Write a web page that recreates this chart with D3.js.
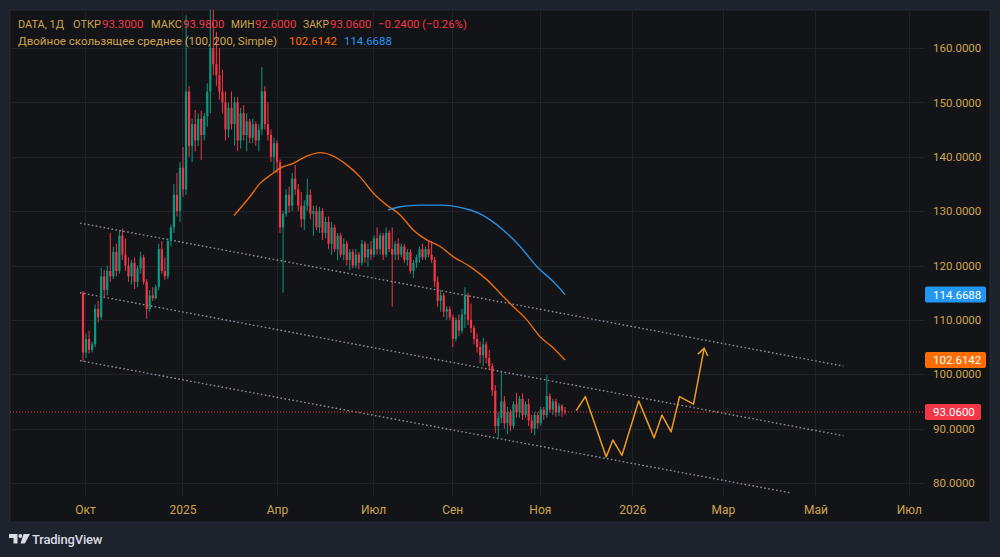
<!DOCTYPE html>
<html lang="ru">
<head>
<meta charset="UTF-8">
<title>DATA, 1Д</title>
<script src="https://cdn.jsdelivr.net/npm/d3@7"></script>
<style>
  html, body { margin: 0; padding: 0; background: #1e222d; }
  svg { display: block; font-family: Roboto, "Noto Sans", sans-serif; }
</style>
</head>
<body>
<script>
    // дневные свечи [open, high, low, close], индекс = номер бара
    var candles = [
        [115,115.3,102.3,104],[104,107.5,103,106.5],[106.5,108,103.8,104.5],[104.5,106,104,105.5],
        [105.5,112.8,105,112],[112,113.5,109.5,110.5],[110.5,119.6,110,118],[118,119.2,114,115.5],
        [115.5,120,114.5,119],[119,126,117,118],[118,123.5,117.5,122.5],[122.5,124,118,119],
        [119,126.5,118.5,125.5],[125.5,126.8,121,122],[122,125,119,120],[120,121.5,117,118],
        [118,121,116.5,120.5],[120.5,121.5,115.7,117],[117,120,116,119.5],[119.5,122.5,118.5,121.5],
        [121.5,122,116.5,117],[117,117.5,110.2,112],[112,115.5,111.5,114.5],[114.5,116,113.5,114],
        [114,116.5,113.8,116],[116,124,115.5,123],[123,124.5,118.5,119],[119,121.5,117.3,118],
        [118,125,117.5,124.5],[124.5,127.5,123.5,127],[127,135,126,133],[133,137,129,130],
        [130,139,128,138],[138,141.8,132.6,134],[134,166,133,152],[152,153,140,142],
        [142,147,139,146],[146,148.6,141,143],[143,148,142,147],[147,148.5,139.4,144],
        [144,148,143,147.5],[147.5,153.5,145.5,152],[152,167,148,160],[160,167.5,155,157],
        [157,163,153,155],[155,160,150.5,152],[152,156,148,150],[150,152,143,145],
        [145,150,143.5,149],[149,152,145,146],[146,151,142,150],[150,151,141,143],
        [143,149,141.5,148],[148,149.5,143,144],[144,148,141,146.5],[146.5,147,142.5,143.5],
        [143.5,147,142.5,146],[146,146.5,142,143],[143,146,141,145],[145,156.5,144,152],
        [152,153,145,146],[146,150,143,144],[144,145,139,140],[140,143.5,137,142.5],
        [142.5,143,137,139],[139,139.5,126,127],[127,130,115,129.5],[129.5,134,129,133],
        [133,134.5,129.7,131],[131,137,130,136],[136,138.5,133,134],[134,135,130,131],
        [131,133.5,127,128.5],[128.5,132,126.5,131],[131,136,130,133],[133,134,128.5,129.5],
        [129.5,131,125.5,130],[130,131,126.5,127],[127,130.8,126,130],[130,130.5,124.7,126],
        [126,129,125,128],[128,129,123,124],[124,128,122,127],[127,127.5,122.5,123],
        [123,126,121,125.5],[125.5,126,121.5,122],[122,125,121,124],[124,124.5,120,121],
        [121,123,119.2,122.5],[122.5,123,119.5,120],[120,123,119.5,122],[122,122.5,119.3,120.5],
        [120.5,124.7,120,124],[124,124.5,120.5,121.5],[121.5,124,119.8,123],[123,124.5,121,122],
        [122,125.5,121.5,125],[125,127,122,123],[123,126,122,125.5],[125.5,126,121,122],
        [122,127,121.5,126],[126,126.5,122.5,123],[123,127,112.4,122],[122,124.5,121,124],
        [124,125,121,122],[122,124,121.5,123.5],[123.5,124,120.5,121],[121,123,120,122.5],
        [122.5,123,118.5,119],[119,121,117.7,120.5],[120.5,122,119.5,121.5],[121.5,123.5,120.5,123],
        [123,124,121,121.5],[121.5,123.5,121,123],[123,124.7,121.5,122],[122,124.5,120.5,121],
        [121,121.6,116,117],[117,118,112.4,113.5],[113.5,115.5,111.5,114.5],[114.5,115,110.5,111.5],
        [111.5,112.5,110,112],[112,112.5,110,110.5],[110.5,111,105,106.5],[106.5,110.5,106,110],
        [110,111,107,108],[108,112,107.5,111],[111,116,108.5,114.5],[114.5,115,109,110],
        [110,113,107.6,108.5],[108.5,109,105.5,106.5],[106.5,107.5,104,105],[105,106,102,103.5],
        [103.5,106.7,101.5,105.5],[105.5,106,102,103],[103,104.5,100.8,101.5],[101.5,102,96,97],
        [97,98,89.2,90.5],[90.5,93,88.3,92],[92,100.4,91,95],[95,96,90,91],
        [91,94,89,93],[93,93.5,89.5,90.5],[90.5,95,90,94.5],[94.5,96.6,92,93],
        [93,96,92,95.5],[95.5,96.5,91.6,92.5],[92.5,95,92,94.5],[94.5,95.5,90.5,91.5],
        [91.5,92.5,89.2,90],[90,93,88.8,92.5],[92.5,93,90,91],[91,94,90.5,93.5],
        [93.5,94,91.6,92.5],[92.5,99.9,92,96],[96,96.5,93,93.5],[93.5,95.5,92.5,95],
        [95,95.5,92.2,93],[93,94.7,92.3,94.2],[94.2,94.5,92.2,93.3],[93.3,93.98,92.6,93.06]
    ];

    // скользящие средние: [бар, значение]
    var maFast = [
        [49.8,129.2],[55.1,132.7],[58.4,135.1],[62.8,137.0],[65.0,137.9],[69.4,138.8],[73.8,140.1],
        [78.2,140.75],[82.6,140.1],[87.0,138.5],[91.4,136.3],[95.8,133.3],[100.2,131.1],[104.6,129.3],
        [109.0,126.5],[113.4,124.7],[117.8,123.5],[122.2,121.6],[127.7,119.8],[133.2,117.4],
        [137.6,114.9],[142.0,112.4],[146.4,110.0],[150.8,106.9],[155.2,104.8],[159,102.6142]
    ];
    var maSlow = [
        [100.6,130.2],[104.6,130.8],[111.2,131.1],[117.8,131.1],[124.4,130.7],[127.7,130.2],
        [131.0,129.5],[134.3,128.4],[138.7,126.5],[144.2,123.5],[149.7,119.8],[155.2,117.0],[159,114.6688]
    ];

    // наклонный канал: [[бар, цена], [бар, цена]]
    var channel = [
        [[-1, 127.8], [250.8, 101.5]],
        [[-1, 115.0], [250.8, 88.7]],
        [[-1, 102.5], [233.3, 78.2]]
    ];

    // прогноз (ломаная со стрелкой)
    var forecast = [
        [162.7,93.3],[165.7,95.9],[172.6,84.8],[174.8,87.9],[177.8,85.1],[183.3,95.1],
        [188.4,88.3],[191,92.5],[194,89.4],[196.8,95.9],[201.4,94.5],[204.9,104.8]
    ];

    var priceTicks = [80, 90, 100, 110, 120, 130, 140, 150, 160];
    var timeTicks = [0.66, 32.8, 64, 95.7, 121.8, 150.7, 181.2, 211.1, 241.6, 272.4];
    var timeLabels = ["Окт", "2025", "Апр", "Июл", "Сен", "Ноя", "2026", "Мар", "Май", "Июл"];

    var lastPrice = 93.06, change = -0.24, changePct = -0.26;

    // цвета
    var upColor = "#089981", downColor = "#f23645";
    var gold = "#cfa54e", fastColor = "#ff6d00", slowColor = "#2196f3";

    var width = 1000, height = 557;
    var panel = {x: 10, y: 10, w: 980, h: 512};
    var plotRight = 925, plotBottom = 497;

    var svg = d3.select("body").append("svg")
        .attr("width", width).attr("height", height);

    svg.append("rect").attr("width", width).attr("height", height).attr("fill", "#1e222d");
    svg.append("rect")
        .attr("x", panel.x).attr("y", panel.y).attr("width", panel.w).attr("height", panel.h)
        .attr("fill", "#121418").attr("stroke", "#262a34");

    svg.append("clipPath").attr("id", "plot")
        .append("rect").attr("x", panel.x).attr("y", panel.y)
        .attr("width", plotRight - panel.x).attr("height", plotBottom - panel.y);

    var x = d3.scaleLinear().domain([0, candles.length - 1]).range([83, 565]);
    var y = d3.scaleLinear().domain([80, 160]).range([483, 48]);

    // сетка
    var grid = svg.append("g").attr("stroke", "#1f222a").attr("stroke-width", 1);
    grid.selectAll(".hg").data(priceTicks).enter().append("line")
        .attr("x1", panel.x).attr("x2", plotRight)
        .attr("y1", function (d) { return Math.round(y(d)) + 0.5; })
        .attr("y2", function (d) { return Math.round(y(d)) + 0.5; });
    grid.selectAll(".vg").data(timeTicks).enter().append("line")
        .attr("x1", function (d) { return Math.round(x(d)) + 0.5; })
        .attr("x2", function (d) { return Math.round(x(d)) + 0.5; })
        .attr("y1", panel.y).attr("y2", plotBottom);

    var plot = svg.append("g").attr("clip-path", "url(#plot)");

    // канал
    plot.selectAll(".ch").data(channel).enter().append("line")
        .attr("x1", function (d) { return x(d[0][0]); })
        .attr("y1", function (d) { return y(d[0][1]); })
        .attr("x2", function (d) { return x(d[1][0]); })
        .attr("y2", function (d) { return y(d[1][1]); })
        .attr("stroke", "#8b8f98").attr("stroke-width", 1.4)
        .attr("stroke-dasharray", "1.6,2.4");

    // линия последней цены
    plot.append("line")
        .attr("x1", panel.x).attr("x2", plotRight)
        .attr("y1", y(lastPrice)).attr("y2", y(lastPrice))
        .attr("stroke", downColor).attr("stroke-width", 1)
        .attr("stroke-dasharray", "1,2");

    // свечи
    var bw = 2.2;
    var bar = plot.selectAll(".candle").data(candles).enter().append("g")
        .attr("fill", function (d) { return d[3] >= d[0] ? upColor : downColor; })
        .attr("stroke", function (d) { return d[3] >= d[0] ? upColor : downColor; });
    bar.append("line")
        .attr("x1", function (d, i) { return x(i); })
        .attr("x2", function (d, i) { return x(i); })
        .attr("y1", function (d) { return y(d[1]); })
        .attr("y2", function (d) { return y(d[2]); })
        .attr("stroke-width", 1);
    bar.append("rect")
        .attr("stroke", "none")
        .attr("x", function (d, i) { return x(i) - bw / 2; })
        .attr("y", function (d) { return y(Math.max(d[0], d[3])); })
        .attr("width", bw)
        .attr("height", function (d) { return Math.max(1, Math.abs(y(d[0]) - y(d[3]))); });

    // скользящие средние
    var line = d3.line()
        .x(function (d) { return x(d[0]); })
        .y(function (d) { return y(d[1]); })
        .curve(d3.curveMonotoneX);
    plot.append("path").datum(maFast).attr("d", line)
        .attr("fill", "none").attr("stroke", "#ec6a0c").attr("stroke-width", 1.4);
    plot.append("path").datum(maSlow).attr("d", line)
        .attr("fill", "none").attr("stroke", "#2a8fe0").attr("stroke-width", 1.4);

    // прогноз
    svg.append("defs").append("marker")
        .attr("id", "arrow").attr("viewBox", "-8 -6 10 12")
        .attr("markerWidth", 10).attr("markerHeight", 12)
        .attr("markerUnits", "userSpaceOnUse").attr("orient", "auto")
        .append("path").attr("d", "M-7,-5 L0,0 L-7,5")
        .attr("fill", "none").attr("stroke", "#ee9c1f").attr("stroke-width", 1.5);
    plot.append("path").datum(forecast)
        .attr("d", d3.line().x(function (d) { return x(d[0]); }).y(function (d) { return y(d[1]); }))
        .attr("fill", "none").attr("stroke", "#ee9c1f").attr("stroke-width", 1.5)
        .attr("stroke-linejoin", "round")
        .attr("marker-end", "url(#arrow)");

    // шкала цен
    var fmt = d3.format(".4f");
    var yAxis = svg.append("g")
        .attr("transform", "translate(" + plotRight + ",0)")
        .call(d3.axisRight(y).tickValues(priceTicks).tickFormat(fmt).tickSize(0).tickPadding(8));
    yAxis.select(".domain").remove();
    yAxis.selectAll("text").attr("fill", gold).style("font-size", "11.5px")
        .style("font-family", "Roboto, sans-serif");

    // шкала времени
    var xAxis = svg.append("g")
        .attr("transform", "translate(0," + plotBottom + ")")
        .call(d3.axisBottom(x).tickValues(timeTicks)
            .tickFormat(function (d, i) { return timeLabels[i]; })
            .tickSize(0).tickPadding(8));
    xAxis.select(".domain").remove();
    xAxis.selectAll("text").attr("fill", gold).style("font-size", "12px")
        .style("font-family", "Roboto, sans-serif");

    // метки значений на шкале
    var badges = [
        {v: maSlow[maSlow.length - 1][1], c: slowColor, w: 61},
        {v: maFast[maFast.length - 1][1], c: fastColor, w: 61},
        {v: lastPrice, c: downColor, w: 56}
    ];
    var badge = svg.selectAll(".badge").data(badges).enter().append("g");
    badge.append("rect")
        .attr("x", plotRight).attr("y", function (d) { return y(d.v) - 8; })
        .attr("width", function (d) { return d.w; }).attr("height", 16).attr("rx", 2)
        .attr("fill", function (d) { return d.c; });
    badge.append("text")
        .attr("x", plotRight + 8).attr("y", function (d) { return y(d.v) + 4.2; })
        .attr("fill", "#ffffff").style("font-size", "11.5px")
        .text(function (d) { return fmt(d.v); });

    // легенда: каждый кусок на своём месте
    var last = candles[candles.length - 1];
    var leg1 = [
        {t: "DATA, 1Д", x: 18, w: 46, c: gold},
        {t: "ОТКР", x: 73, w: 28, c: gold}, {t: fmt(last[0]), x: 102, c: downColor},
        {t: "МАКС", x: 151, w: 31, c: gold}, {t: fmt(last[1]), x: 183, c: downColor},
        {t: "МИН", x: 231, fs: 10.2, c: gold}, {t: fmt(last[2]), x: 255, c: downColor},
        {t: "ЗАКР", x: 303, w: 26, c: gold}, {t: fmt(last[3]), x: 330, c: downColor},
        {t: "\u2212" + fmt(-change), x: 378, c: downColor},
        {t: "(\u2212" + (-changePct).toFixed(2) + "%)", x: 422, c: downColor}
    ];
    var leg2 = [
        {t: "Двойное скользящее среднее (100, 200, Simple)", x: 18, w: 259, c: gold},
        {t: fmt(maFast[maFast.length - 1][1]), x: 289, c: fastColor},
        {t: fmt(maSlow[maSlow.length - 1][1]), x: 344, c: slowColor}
    ];
    [[leg1, 28], [leg2, 45]].forEach(function (row) {
        var t = svg.selectAll(null).data(row[0]).enter().append("text")
            .attr("x", function (d) { return d.x; }).attr("y", row[1])
            .attr("fill", function (d) { return d.c; })
            .style("font-size", function (d) { return (d.fs || 11.4) + "px"; })
            .text(function (d) { return d.t; });
        t.filter(function (d) { return d.w; })
            .attr("textLength", function (d) { return d.w; })
            .attr("lengthAdjust", "spacingAndGlyphs");
    });

    // логотип
    var logo = svg.append("g").attr("fill", "#d9dce3");
    logo.append("path").attr("d", "M9,534 h8.5 v9.5 h-4 v-5.5 h-4.5 z");
    logo.append("circle").attr("cx", 20.3).attr("cy", 536).attr("r", 1.9);
    logo.append("path").attr("d", "M23.5,534 h6.5 l-5.2,9.5 h-4.3 z");
    logo.append("text").attr("x", 32).attr("y", 544)
        .style("font-size", "13px").style("font-weight", "500")
        .attr("letter-spacing", "-0.2")
        .text("TradingView");
</script>
</body>
</html>
